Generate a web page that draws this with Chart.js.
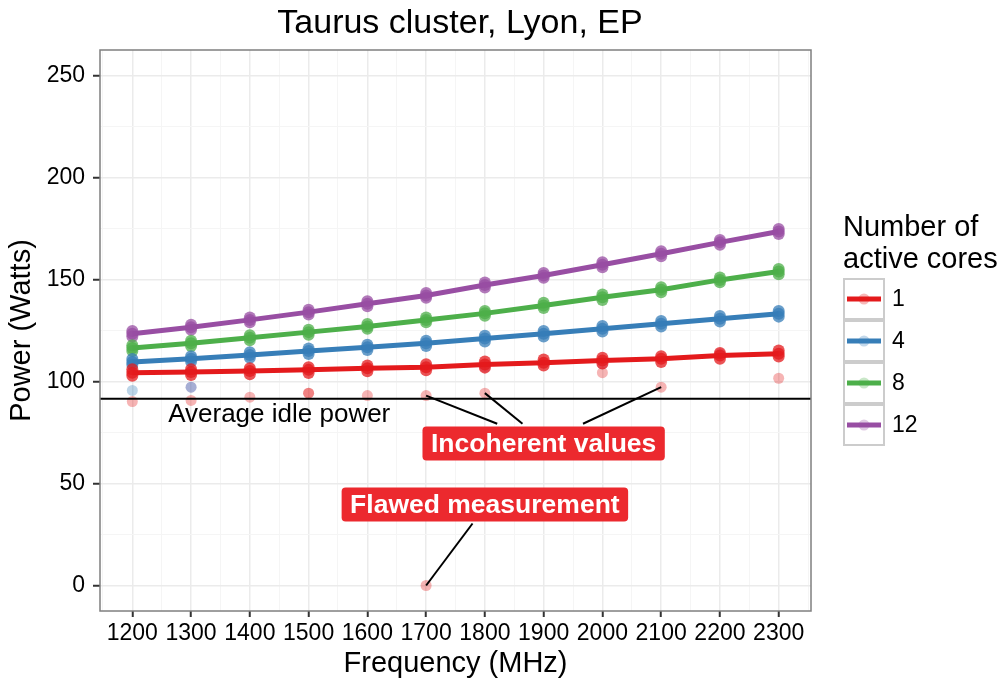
<!DOCTYPE html>
<html>
<head>
<meta charset="utf-8">
<title>Taurus cluster, Lyon, EP</title>
<script src="https://cdn.jsdelivr.net/npm/chart.js@4"></script>
<style>
  html, body { margin: 0; padding: 0; background: #fff; }
  canvas { display: block; }
</style>
</head>
<body>
<canvas id="chart" width="1004" height="687"></canvas>
<script>
// Values
const frequencies = [1200, 1300, 1400, 1500, 1600, 1700, 1800, 1900, 2000, 2100, 2200, 2300];
const coreLabels = ['1', '4', '8', '12'];
const coreColors = ['#E41A1C', '#377EB8', '#4DAF4A', '#984EA3'];

// mean power per frequency (the lines)
const mean1  = [104.3, 104.6, 105.1, 105.7, 106.5, 107.0, 108.3, 109.2, 110.3, 111.1, 112.7, 113.6];
const mean4  = [109.6, 111.2, 113.0, 114.9, 116.8, 118.8, 121.1, 123.4, 125.9, 128.3, 130.8, 133.2];
const mean8  = [116.4, 118.7, 121.5, 124.2, 127.0, 130.2, 133.4, 137.3, 141.3, 145.0, 149.8, 153.9];
const mean12 = [123.4, 126.6, 130.2, 134.0, 138.1, 142.2, 147.3, 152.0, 157.2, 162.6, 168.2, 173.5];

// lowest / highest measurements of the main clusters
const low1   = [102.8, 103.2, 103.6, 104.2, 105.0, 105.5, 106.8, 107.8, 108.8, 109.6, 111.2, 112.2];
const high1  = [106.0, 106.0, 106.5, 107.0, 107.8, 108.5, 109.8, 110.8, 111.6, 112.4, 114.0, 115.2];
const low4   = [108.2, 109.8, 111.6, 113.5, 115.4, 117.4, 119.6, 122.0, 124.5, 126.9, 129.4, 131.8];
const high4  = [111.0, 112.4, 114.3, 116.2, 118.0, 120.0, 122.4, 124.8, 127.2, 129.6, 132.1, 134.6];
const low8   = [115.0, 117.4, 120.2, 122.9, 125.8, 129.0, 132.2, 136.0, 140.0, 143.8, 148.6, 152.6];
const high8  = [117.8, 120.0, 122.7, 125.4, 128.2, 131.4, 134.6, 138.6, 142.6, 146.2, 151.0, 155.2];
const low12  = [122.0, 125.4, 129.0, 132.8, 136.9, 141.0, 146.1, 150.8, 156.0, 161.4, 167.0, 172.3];
const high12 = [124.8, 127.8, 131.4, 135.2, 139.3, 143.4, 148.5, 153.2, 158.4, 163.8, 169.4, 174.7];

// isolated measurements [frequency, watts]
const outliers1  = [[1200, 90.2], [1300, 90.7], [1400, 92.3], [1500, 94.3], [1500, 94.3], [1600, 93.1],
                    [1700, 93.1], [1700, 0], [1800, 94.3], [2000, 104.3], [2100, 97.2], [2300, 101.6]];
const outliers4  = [[1200, 95.6], [1300, 97.2]];
const outliers8  = [];
const outliers12 = [[1300, 97.2], [1800, 107.0], [2000, 108.7], [2200, 113.6]];

const idlePower = 91.5;
const xMajor = [1200, 1300, 1400, 1500, 1600, 1700, 1800, 1900, 2000, 2100, 2200, 2300];
const xMinor = [1150, 1250, 1350, 1450, 1550, 1650, 1750, 1850, 1950, 2050, 2150, 2250, 2350];
const yMajor = [0, 50, 100, 150, 200, 250];
const yMinor = [25, 75, 125, 175, 225];

// annotation segments [x0, y0, x1, y1] in data units
const segments = [
  [1700, 93.1, 1821, 79.3],
  [1800, 94.3, 1864, 79.3],
  [2100, 97.2, 1967, 79.3],
  [1700, 0, 1779, 30.4]
];

const FONT = '"Liberation Sans", Arial, Helvetica, sans-serif';

function pts(xs, ys) { return xs.map((x, i) => ({ x: x, y: ys[i] })); }
function pairs(list) { return list.map(p => ({ x: p[0], y: p[1] })); }
function rgba(hex, a) {
  const n = parseInt(hex.slice(1), 16);
  return `rgba(${n >> 16},${(n >> 8) & 255},${n & 255},${a})`;
}

const means = [mean1, mean4, mean8, mean12];
const lows = [low1, low4, low8, low12];
const highs = [high1, high4, high8, high12];
const outliers = [outliers1, outliers4, outliers8, outliers12];

const datasets = [];
coreLabels.forEach((lab, i) => {
  datasets.push({
    label: lab + ' raw',
    data: pts(frequencies, lows[i]).concat(pts(frequencies, means[i]), pts(frequencies, highs[i])),
    backgroundColor: rgba(coreColors[i], 0.75),
    borderWidth: 0,
    pointRadius: 6
  });
  datasets.push({
    label: lab + ' outliers',
    data: pairs(outliers[i]),
    backgroundColor: rgba(coreColors[i], 0.33),
    borderWidth: 0,
    pointRadius: 5.5
  });
});
coreLabels.forEach((lab, i) => {
  datasets.push({
    label: lab,
    data: pts(frequencies, means[i]),
    showLine: true,
    borderColor: coreColors[i],
    borderWidth: 5,
    pointRadius: 0,
    fill: false
  });
});

function setTicks(major, minor) {
  return scale => {
    scale.ticks = major.concat(minor).sort((a, b) => a - b).map(v => ({ value: v }));
  };
}
const isMajor = (list) => ctx => ctx.tick && list.includes(ctx.tick.value);

const ggExtras = {
  id: 'ggExtras',
  afterDatasetsDraw(chart) {
    const { ctx, chartArea: a, scales: { x, y } } = chart;
    ctx.save();
    ctx.beginPath();
    ctx.rect(a.left, a.top, a.width, a.height);
    ctx.clip();

    // average idle power
    const yi = y.getPixelForValue(idlePower);
    ctx.strokeStyle = '#000';
    ctx.lineWidth = 2;
    ctx.beginPath();
    ctx.moveTo(a.left, yi);
    ctx.lineTo(a.right, yi);
    ctx.stroke();

    ctx.fillStyle = '#000';
    ctx.font = '26px ' + FONT;
    ctx.textAlign = 'center';
    ctx.textBaseline = 'alphabetic';
    ctx.fillText('Average idle power', x.getPixelForValue(1450), y.getPixelForValue(80));

    // pointer segments
    ctx.lineWidth = 2;
    segments.forEach(s => {
      ctx.beginPath();
      ctx.moveTo(x.getPixelForValue(s[0]), y.getPixelForValue(s[1]));
      ctx.lineTo(x.getPixelForValue(s[2]), y.getPixelForValue(s[3]));
      ctx.stroke();
    });

    // red labels
    ctx.font = 'bold 26.5px ' + FONT;
    [['Incoherent values', 1900, 69.6], ['Flawed measurement', 1800, 39.7]].forEach(l => {
      const cx = x.getPixelForValue(l[1]);
      const cy = y.getPixelForValue(l[2]);
      const w = ctx.measureText(l[0]).width + 17;
      const h = 34;
      ctx.fillStyle = '#EC292E';
      ctx.beginPath();
      ctx.roundRect(cx - w / 2, cy - h / 2, w, h, 4);
      ctx.fill();
      ctx.fillStyle = '#fff';
      ctx.textBaseline = 'middle';
      ctx.fillText(l[0], cx, cy + 1);
    });
    ctx.restore();

    // panel border
    ctx.save();
    ctx.strokeStyle = '#7F7F7F';
    ctx.lineWidth = 1.5;
    ctx.strokeRect(a.left, a.top, a.width, a.height);
    ctx.restore();
  },
  afterDraw(chart) {
    const { ctx } = chart;
    ctx.save();
    // title
    ctx.fillStyle = '#000';
    ctx.font = '34px ' + FONT;
    ctx.textAlign = 'center';
    ctx.textBaseline = 'alphabetic';
    ctx.fillText('Taurus cluster, Lyon, EP', 460, 33);

    // legend
    const lx = 843;
    ctx.textAlign = 'left';
    ctx.font = '29px ' + FONT;
    ctx.fillText('Number of', lx, 236);
    ctx.fillText('active cores', lx, 268);
    const top = 278, size = 42;
    coreLabels.forEach((lab, i) => {
      const ky = top + i * size;
      ctx.fillStyle = '#fff';
      ctx.fillRect(lx, ky, size, size);
      ctx.strokeStyle = '#CCCCCC';
      ctx.lineWidth = 2;
      ctx.strokeRect(lx + 1, ky + 1, size - 2, size - 2);
      const cy = ky + size / 2;
      ctx.strokeStyle = coreColors[i];
      ctx.lineWidth = 5;
      ctx.beginPath();
      ctx.moveTo(lx + 4, cy);
      ctx.lineTo(lx + size - 4, cy);
      ctx.stroke();
      ctx.fillStyle = rgba(coreColors[i], 0.3);
      ctx.beginPath();
      ctx.arc(lx + size / 2, cy, 5.5, 0, Math.PI * 2);
      ctx.fill();
      ctx.fillStyle = '#000';
      ctx.font = '23px ' + FONT;
      ctx.textBaseline = 'middle';
      ctx.fillText(lab, lx + size + 7, cy + 1);
    });
    ctx.restore();
  }
};

new Chart(document.getElementById('chart'), {
  type: 'scatter',
  data: { datasets: datasets },
  plugins: [ggExtras],
  options: {
    responsive: false,
    animation: false,
    devicePixelRatio: 1,
    layout: { padding: { top: 50, right: 193, left: 0, bottom: 0 }, autoPadding: false },
    plugins: { legend: { display: false }, tooltip: { enabled: false } },
    scales: {
      x: {
        type: 'linear',
        min: 1145,
        max: 2355,
        afterBuildTicks: setTicks(xMajor, xMinor),
        afterFit: s => { s.height = 76; },
        border: { display: false },
        grid: {
          color: c => isMajor(xMajor)(c) ? '#EBEBEB' : '#F5F5F5',
          lineWidth: c => isMajor(xMajor)(c) ? 1.5 : 1,
          tickColor: c => isMajor(xMajor)(c) ? '#333333' : 'rgba(0,0,0,0)',
          tickWidth: 2,
          tickLength: 6
        },
        ticks: {
          autoSkip: false,
          maxRotation: 0,
          padding: 3,
          color: '#000',
          font: { family: FONT, size: 23 },
          callback: v => xMajor.includes(v) ? String(v) : ''
        },
        title: {
          display: true,
          text: 'Frequency (MHz)',
          color: '#000',
          font: { family: FONT, size: 29 },
          padding: { top: 0, bottom: 6 }
        }
      },
      y: {
        type: 'linear',
        min: -12.5,
        max: 262.5,
        afterBuildTicks: setTicks(yMajor, yMinor),
        afterFit: s => { s.width = 100; },
        border: { display: false },
        grid: {
          color: c => isMajor(yMajor)(c) ? '#EBEBEB' : '#F5F5F5',
          lineWidth: c => isMajor(yMajor)(c) ? 1.5 : 1,
          tickColor: c => isMajor(yMajor)(c) ? '#333333' : 'rgba(0,0,0,0)',
          tickWidth: 2,
          tickLength: 7
        },
        ticks: {
          autoSkip: false,
          padding: 8,
          color: '#000',
          font: { family: FONT, size: 23 },
          callback: v => yMajor.includes(v) ? String(v) : ''
        },
        title: {
          display: true,
          text: 'Power (Watts)',
          color: '#000',
          font: { family: FONT, size: 29 },
          padding: { top: 5, bottom: 0 }
        }
      }
    }
  }
});
</script>
</body>
</html>
